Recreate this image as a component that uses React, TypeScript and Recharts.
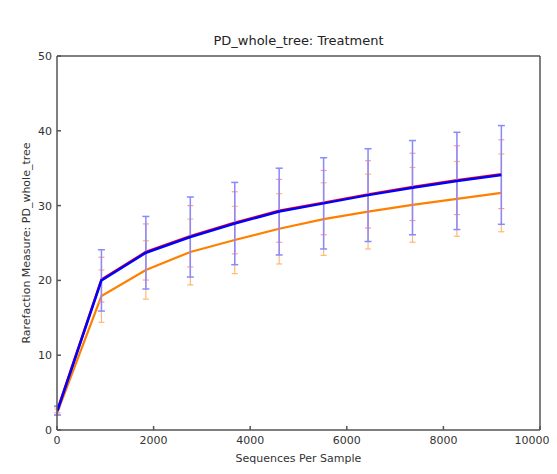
import React from "react";
import { ComposedChart, Line, XAxis, YAxis, ErrorBar } from "recharts";

const seqs = [10, 920, 1840, 2760, 3680, 4600, 5520, 6440, 7360, 8280, 9200];
const redMean = [2.7, 20.1, 23.8, 25.9, 27.7, 29.3, 30.4, 31.5, 32.5, 33.4, 34.2];
const redErr = [0.4, 3.0, 3.75, 4.1, 4.15, 4.2, 4.3, 4.5, 4.5, 4.6, 4.6];
const blueMean = [2.6, 20.0, 23.7, 25.8, 27.6, 29.2, 30.3, 31.4, 32.4, 33.3, 34.1];
const blueErr = [0.6, 4.1, 4.85, 5.35, 5.5, 5.8, 6.1, 6.2, 6.3, 6.5, 6.6];
const orangeMean = [2.4, 17.9, 21.4, 23.8, 25.4, 26.9, 28.2, 29.2, 30.1, 30.9, 31.7];
const orangeErr = [0.4, 3.5, 3.9, 4.4, 4.5, 4.7, 4.85, 5.0, 5.0, 5.0, 5.2];

const xTicks = [0, 2000, 4000, 6000, 8000, 10000];
const yTicks = [0, 10, 20, 30, 40, 50];

const rows = seqs.map((x, i) => ({
  x,
  red: redMean[i],
  redErr: redErr[i],
  blue: blueMean[i],
  blueErr: blueErr[i],
  orange: orangeMean[i],
  orangeErr: orangeErr[i],
}));

const FONT = "'DejaVu Sans', sans-serif";
const AXIS = "#555";
const tickStyle = { fontSize: 11, fill: "#333", fontFamily: FONT };

// bottom tick label; the last one sits against the edge of the panel
const XTick = (props: any) => {
  const { x, y, payload } = props;
  const shift = payload.value === 10000 ? -8 : 0;
  return (
    <text x={x + shift} y={y} dy="0.71em" textAnchor="middle" {...tickStyle}>
      {payload.value}
    </text>
  );
};

export default function App() {
  return (
    <div
      style={{
        position: "relative",
        width: 557,
        height: 474,
        margin: -8,
        background: "#d8ecf2",
        fontFamily: FONT,
        overflow: "hidden",
      }}
    >
      <div
        style={{
          position: "absolute",
          left: 5,
          top: 5,
          width: 552,
          height: 469,
          background: "#fff",
        }}
      />
      <div style={{ position: "absolute", left: 0, top: 0 }}>
        <ComposedChart
          width={590}
          height={474}
          data={rows}
          margin={{ top: 55, right: 49, bottom: 0, left: 0 }}
        >
          <XAxis
            xAxisId="b"
            type="number"
            dataKey="x"
            domain={[0, 10000]}
            ticks={xTicks}
            height={44}
            tickSize={-4}
            tickMargin={10}
            stroke={AXIS}
            strokeWidth={1.5}
            tick={<XTick />}
            allowDataOverflow
          />
          <XAxis
            xAxisId="t"
            orientation="top"
            type="number"
            dataKey="x"
            domain={[0, 10000]}
            ticks={xTicks}
            height={1}
            tickSize={-4}
            tick={false}
            stroke={AXIS}
            strokeWidth={1.5}
            allowDataOverflow
          />
          <YAxis
            yAxisId="l"
            domain={[0, 50]}
            ticks={yTicks}
            width={57}
            tickSize={-4}
            tickMargin={9}
            stroke={AXIS}
            strokeWidth={1.5}
            tick={tickStyle}
            allowDataOverflow
          />
          <YAxis
            yAxisId="r"
            orientation="right"
            domain={[0, 50]}
            ticks={yTicks}
            width={1}
            tickSize={-4}
            tick={false}
            stroke={AXIS}
            strokeWidth={1.5}
            allowDataOverflow
          />
          <Line
            xAxisId="b"
            yAxisId="l"
            dataKey="orange"
            stroke="#ff8000"
            strokeWidth={2.2}
            dot={false}
            isAnimationActive={false}
          >
            <ErrorBar dataKey="orangeErr" direction="y" width={3} stroke="#ffb870" strokeWidth={1.2} />
          </Line>
          <Line
            xAxisId="b"
            yAxisId="l"
            dataKey="red"
            stroke="#ff0000"
            strokeWidth={2.5}
            dot={false}
            isAnimationActive={false}
          >
            <ErrorBar dataKey="redErr" direction="y" width={3} stroke="#ff9a9a" strokeWidth={1.2} />
          </Line>
          <Line
            xAxisId="b"
            yAxisId="l"
            dataKey="blue"
            stroke="#0000ff"
            strokeWidth={2.5}
            dot={false}
            isAnimationActive={false}
          >
            <ErrorBar dataKey="blueErr" direction="y" width={3.5} stroke="#8888ff" strokeWidth={1.5} />
          </Line>
        </ComposedChart>
      </div>
      <div
        style={{
          position: "absolute",
          left: 57,
          width: 483,
          top: 33,
          textAlign: "center",
          fontSize: 13,
          color: "#222",
        }}
      >
        PD_whole_tree: Treatment
      </div>
      <div
        style={{
          position: "absolute",
          left: 57,
          width: 483,
          top: 452,
          textAlign: "center",
          fontSize: 11,
          color: "#333",
        }}
      >
        Sequences Per Sample
      </div>
      <div
        style={{
          position: "absolute",
          left: 26,
          top: 243,
          transform: "translate(-50%, -50%) rotate(-90deg)",
          whiteSpace: "nowrap",
          fontSize: 11,
          color: "#333",
        }}
      >
        Rarefaction Measure: PD_whole_tree
      </div>
    </div>
  );
}
